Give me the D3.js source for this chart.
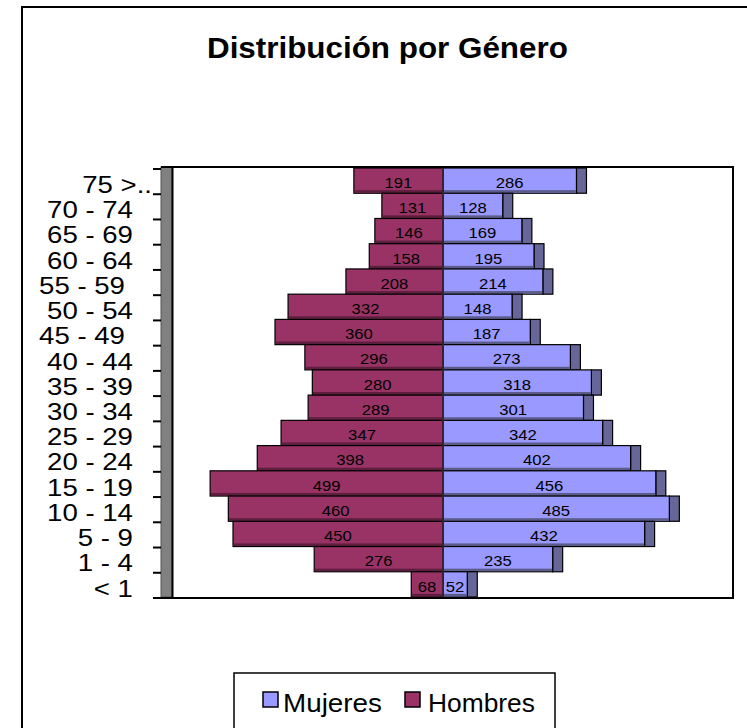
<!DOCTYPE html>
<html>
<head>
<meta charset="utf-8">
<script src="https://cdn.jsdelivr.net/npm/d3@7"></script>
<style>
  body { margin: 0; background: #fff; }
  svg { display: block; }
</style>
</head>
<body>
<div id="app"></div>
<script>
// age groups, top to bottom
const categories = ['75 >..', '70 - 74', '65 - 69', '60 - 64', '55 - 59', '50 - 54', '45 - 49',
  '40 - 44', '35 - 39', '30 - 34', '25 - 29', '20 - 24', '15 - 19', '10 - 14', '5 - 9', '1 - 4', '< 1'];
const hombres = [191, 131, 146, 158, 208, 332, 360, 296, 280, 289, 347, 398, 499, 460, 450, 276, 68];
const mujeres = [286, 128, 169, 195, 214, 148, 187, 273, 318, 301, 342, 402, 456, 485, 432, 235, 52];
const seriesNames = ['Mujeres', 'Hombres'];
const titleText = 'Distribución por Género';

const width = 747;
const height = 728;
const font = '"Liberation Sans", Arial, sans-serif';
const depth = 10; // 3d offset of the bars
const colMujeres = '#9999ff';
const colMujeresSide = '#666699';
const colHombres = '#993366';
const margin = { top: 167, bottom: 597, left: 163, right: 723 };

const svg = d3.select('#app')
  .append('svg')
  .attr('width', width)
  .attr('height', height);

svg.append('rect')
  .attr('width', width)
  .attr('height', height)
  .attr('fill', '#fff');

// outer chart frame (runs off the page on right and bottom)
svg.append('rect')
  .attr('x', 22)
  .attr('y', 7)
  .attr('width', 800)
  .attr('height', 800)
  .attr('fill', 'none')
  .attr('stroke', '#000')
  .attr('stroke-width', 2);

// stretch text horizontally like the original rendering (real glyph scaling)
function stretch(node, factor, anchor, ax, ay) {
  const len = node.getComputedTextLength() * factor;
  let x0 = ax;
  if (anchor === 'end') x0 = ax - len;
  if (anchor === 'middle') x0 = ax - len / 2;
  d3.select(node)
    .attr('x', 0)
    .attr('y', 0)
    .attr('text-anchor', 'start')
    .attr('transform', `translate(${x0},${ay}) scale(${factor},1)`);
}

svg.append('text')
  .attr('font-family', font)
  .attr('font-weight', 'bold')
  .attr('font-size', 29)
  .text(titleText)
  .each(function () {
    stretch(this, 361 / this.getComputedTextLength(), 'middle', 387.5, 58);
  });

const x = d3.scaleLinear()
  .domain([-600, 600])
  .range([margin.left, margin.right]);

const y = d3.scaleBand()
  .domain(categories)
  .range([margin.top + 1, margin.bottom])
  .padding(0);

// side wall
svg.append('rect')
  .attr('x', x(-600) - 2)
  .attr('y', margin.top)
  .attr('width', depth + 1)
  .attr('height', margin.bottom - margin.top)
  .attr('fill', '#808080')
  .attr('stroke', '#555')
  .attr('stroke-width', 1);
svg.append('line')
  .attr('x1', x(-600) + depth - 0.5)
  .attr('x2', x(-600) + depth - 0.5)
  .attr('y1', margin.top)
  .attr('y2', margin.bottom)
  .attr('stroke', '#000')
  .attr('stroke-width', 2);

// back plane border
svg.append('path')
  .attr('d', `M${x(-600) - 2},${margin.top}H${x(600) + depth}V${margin.bottom}`)
  .attr('fill', 'none')
  .attr('stroke', '#000')
  .attr('stroke-width', 2);

// ticks at band edges
const tickYs = categories.map(c => y(c)).concat([y(categories[categories.length - 1]) + y.bandwidth()]);
svg.append('g')
  .selectAll('line')
  .data(tickYs)
  .enter()
  .append('line')
  .attr('x1', x(-600) - 10)
  .attr('x2', x(-600) - 2)
  .attr('y1', d => d + 1)
  .attr('y2', d => d + 1)
  .attr('stroke', '#000')
  .attr('stroke-width', 2);

// category labels
const labelNudge = { '75 >..': 19, '55 - 59': -8, '45 - 49': -8 };
svg.append('g')
  .selectAll('text')
  .data(categories)
  .enter()
  .append('text')
  .attr('dy', '0.36em')
  .attr('font-family', font)
  .attr('font-size', 23)
  .attr('fill', '#000')
  .text(d => d)
  .each(function (d) {
    stretch(this, 1.2, 'end', 133 + (labelNudge[d] || 0), y(d) + y.bandwidth() / 2 + 4);
  });

const rows = categories.map((c, i) => ({ cat: c, h: hombres[i], m: mujeres[i] }));
const bh = y.bandwidth();
const band = 2.5;

const rowG = svg.append('g')
  .selectAll('g')
  .data(rows)
  .enter()
  .append('g');

// hombres (left)
rowG.append('rect')
  .attr('x', d => x(-d.h))
  .attr('y', d => y(d.cat))
  .attr('width', d => x(0) - x(-d.h))
  .attr('height', bh)
  .attr('fill', colHombres)
  .attr('stroke', '#000')
  .attr('stroke-width', 1.2);
rowG.append('rect')
  .attr('x', d => x(-d.h) + 0.6)
  .attr('y', d => y(d.cat) + bh - band - 0.6)
  .attr('width', d => x(0) - x(-d.h) - 1.2)
  .attr('height', band)
  .attr('fill', '#5e1f3f');

// mujeres side face
rowG.append('rect')
  .attr('x', d => x(d.m))
  .attr('y', d => y(d.cat))
  .attr('width', depth)
  .attr('height', bh)
  .attr('fill', colMujeresSide)
  .attr('stroke', '#000')
  .attr('stroke-width', 1.2);

// mujeres front
rowG.append('rect')
  .attr('x', x(0))
  .attr('y', d => y(d.cat))
  .attr('width', d => x(d.m) - x(0))
  .attr('height', bh)
  .attr('fill', colMujeres)
  .attr('stroke', '#000')
  .attr('stroke-width', 1.2);
rowG.append('rect')
  .attr('x', x(0) + 0.6)
  .attr('y', d => y(d.cat) + bh - band - 0.6)
  .attr('width', d => x(d.m) - x(0) - 1.2)
  .attr('height', band)
  .attr('fill', '#5c5c8a');

// centre divider
svg.append('line')
  .attr('x1', x(0))
  .attr('x2', x(0))
  .attr('y1', margin.top + 1)
  .attr('y2', margin.bottom)
  .attr('stroke', '#3a2030')
  .attr('stroke-width', 2);

// value labels
rowG.append('text')
  .attr('dy', '0.36em')
  .attr('font-family', font)
  .attr('font-size', 14.5)
  .text(d => d.h)
  .each(function (d) {
    stretch(this, 1.15, 'middle', (x(-d.h) + x(0)) / 2, y(d.cat) + bh / 2 + 2);
  });
rowG.append('text')
  .attr('dy', '0.36em')
  .attr('font-family', font)
  .attr('font-size', 14.5)
  .text(d => d.m)
  .each(function (d) {
    stretch(this, 1.15, 'middle', (x(d.m) + x(0)) / 2, y(d.cat) + bh / 2 + 2);
  });

// category axis baseline
svg.append('line')
  .attr('x1', x(-600) - 10)
  .attr('x2', x(600) + depth + 1)
  .attr('y1', margin.bottom + 1)
  .attr('y2', margin.bottom + 1)
  .attr('stroke', '#000')
  .attr('stroke-width', 2);

// legend
svg.append('rect')
  .attr('x', 234)
  .attr('y', 673)
  .attr('width', 321)
  .attr('height', 100)
  .attr('fill', '#fff')
  .attr('stroke', '#000')
  .attr('stroke-width', 1.5);

const legendItems = [
  { name: seriesNames[0], color: colMujeres, sx: 263, tx: 283, w: 99 },
  { name: seriesNames[1], color: colHombres, sx: 405, tx: 428, w: 107 },
];
const lg = svg.append('g')
  .selectAll('g')
  .data(legendItems)
  .enter()
  .append('g');
lg.append('rect')
  .attr('x', d => d.sx)
  .attr('y', 692)
  .attr('width', 15)
  .attr('height', 15)
  .attr('fill', d => d.color)
  .attr('stroke', '#000')
  .attr('stroke-width', 1.5);
lg.append('text')
  .attr('font-family', font)
  .attr('font-size', 26)
  .text(d => d.name)
  .each(function (d) {
    stretch(this, d.w / this.getComputedTextLength(), 'start', d.tx, 712);
  });
</script>
</body>
</html>
